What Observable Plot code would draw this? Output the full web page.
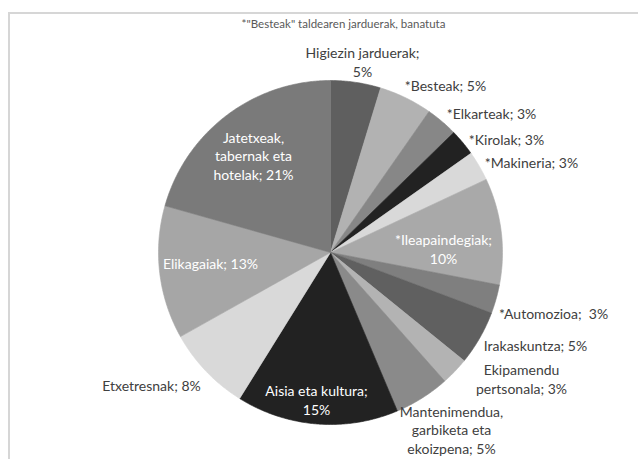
<!DOCTYPE html>
<html>
<head>
<meta charset="utf-8">
<script src="https://cdn.jsdelivr.net/npm/d3@7"></script>
<script src="https://cdn.jsdelivr.net/npm/@observablehq/plot@0.6"></script>
<style>
  html, body { margin: 0; padding: 0; background: #fff; }
  #wrap { position: relative; width: 638px; height: 459px; overflow: hidden; }
  #frame { position: absolute; left: 8px; top: 12px; right: -10px; bottom: -10px;
           border-left: 2px solid #d6d6d6; border-top: 2px solid #d6d6d6; pointer-events: none; }
  #chart { position: absolute; left: 0; top: 0; }
</style>
</head>
<body>
<div id="wrap"><div id="chart"></div><div id="frame"></div></div>
<script>
// ---- data ----
const title = '*"Besteak" taldearen jarduerak, banatuta';
const categories = [
  "Higiezin jarduerak", "*Besteak", "*Elkarteak", "*Kirolak", "*Makineria",
  "*Ileapaindegiak", "*Automozioa", "Irakaskuntza", "Ekipamendu pertsonala",
  "Mantenimendua, garbiketa eta ekoizpena", "Aisia eta kultura", "Etxetresnak",
  "Elikagaiak", "Jatetxeak, tabernak eta hotelak"
];
const values = [4.7, 5.0, 3.0, 2.5, 2.8, 10.0, 2.7, 5.1, 2.6, 5.2, 15.2, 8.0, 12.5, 20.6];

// ---- styles / layout ----
const palette = ["#5f5f5f", "#b2b2b2", "#878787", "#222222", "#d9d9d9",
  "#a9a9a9", "#7f7f7f", "#606060", "#b3b3b3", "#8a8a8a", "#222222", "#d9d9d9",
  "#a6a6a6", "#7a7a7a"];
// label anchor (pixel centre of text block), line breaks after word index, colour
const labelLayout = [
  {px: 362, py: 61, br: [1], c: "#404040"},
  {px: 445, py: 85, br: [], c: "#404040"},
  {px: 491, py: 113, br: [], c: "#404040"},
  {px: 506, py: 139, br: [], c: "#404040"},
  {px: 531, py: 162, br: [], c: "#404040"},
  {px: 443, py: 248, br: [0], c: "#ffffff"},
  {px: 553, py: 313, br: [], c: "#404040", sep: "\u00a0 "},
  {px: 535, py: 345, br: [], c: "#404040"},
  {px: 521, py: 378, br: [0], c: "#404040"},
  {px: 451, py: 429, br: [0, 2], c: "#404040"},
  {px: 316, py: 399, br: [2], c: "#ffffff"},
  {px: 151, py: 385, br: [], c: "#404040"},
  {px: 210, py: 263, br: [], c: "#ffffff"},
  {px: 253, py: 155, br: [0, 2], c: "#ffffff"}
];

const W = 638, H = 459, CX = 330, CY = 252, R = 172;
const toX = px => (px - CX) / R;
const toY = py => (CY - py) / R;

const total = d3.sum(values);
const arcs = d3.pie().sort(null).value(d => d)(values);

// polygons for slices
const rows = [];
arcs.forEach((a, i) => {
  const steps = Math.max(4, Math.ceil((a.endAngle - a.startAngle) / (Math.PI / 360)));
  rows.push({i, x: 0, y: 0});
  for (let k = 0; k <= steps; k++) {
    const t = a.startAngle + (a.endAngle - a.startAngle) * k / steps;
    rows.push({i, x: Math.sin(t), y: Math.cos(t)});
  }
  rows.push({i, x: 0, y: 0});
});

function labelText(i) {
  const pct = Math.round(values[i] / total * 100);
  const L = labelLayout[i];
  const parts = (categories[i] + ";").split(" ");
  parts.push(pct + "%");
  let s = "";
  parts.forEach((w, k) => {
    s += w;
    if (k < parts.length - 1) {
      if (L.br.includes(k)) s += "\n";
      else if (k === parts.length - 2 && L.sep) s += L.sep;
      else s += " ";
    }
  });
  return s;
}
const labels = categories.map((c, i) => ({
  x: toX(labelLayout[i].px), y: toY(labelLayout[i].py), text: labelText(i), color: labelLayout[i].c
}));

const plot = Plot.plot({
  width: W, height: H,
  margin: 0,
  x: {domain: [toX(0), toX(W)], axis: null},
  y: {domain: [toY(H), toY(0)], axis: null},
  style: {fontFamily: "Lato, 'Open Sans', sans-serif", background: "transparent"},
  marks: [
    Plot.line(rows, {x: "x", y: "y", z: "i", fill: d => palette[d.i], stroke: d => palette[d.i], strokeWidth: 0.6, curve: "linear"}),
    Plot.text(labels, {x: "x", y: "y", text: "text", fill: "color", fontSize: 14, lineHeight: 1.33, textAnchor: "middle", lineAnchor: "middle"}),
    Plot.text([title], {x: toX(343), y: toY(24), text: d => d, fill: "#595959", fontSize: 11.5, textAnchor: "middle"})
  ]
});
document.getElementById("chart").appendChild(plot);
</script>
</body>
</html>
